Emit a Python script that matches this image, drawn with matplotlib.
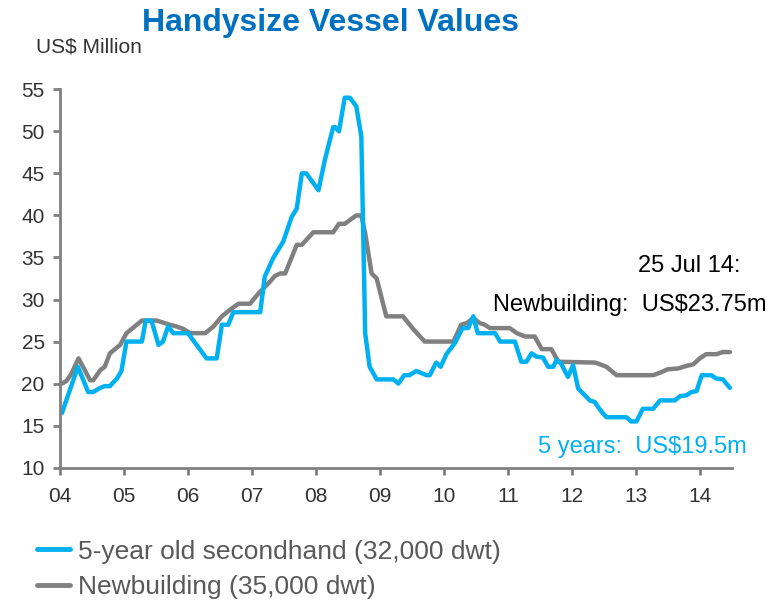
import matplotlib
matplotlib.use("Agg")
import matplotlib.pyplot as plt
from matplotlib.lines import Line2D

# 5-year old secondhand (32,000 dwt), US$ million, decimal years
sh_dates = [2004.03, 2004.28, 2004.44, 2004.52, 2004.63, 2004.70, 2004.78, 2004.89, 2004.96,
            2005.04, 2005.28, 2005.34, 2005.43, 2005.54, 2005.61, 2005.69, 2005.77, 2006.00,
            2006.29, 2006.45, 2006.53, 2006.63, 2006.71, 2007.13, 2007.20, 2007.33, 2007.49,
            2007.62, 2007.70, 2007.78, 2007.85, 2008.04, 2008.14, 2008.27, 2008.30, 2008.36,
            2008.45, 2008.53, 2008.63, 2008.71, 2008.77, 2008.84, 2008.95, 2009.21, 2009.29,
            2009.38, 2009.46, 2009.57, 2009.73, 2009.78, 2009.88, 2009.95, 2010.04, 2010.17,
            2010.29, 2010.38, 2010.46, 2010.53, 2010.80, 2010.88, 2011.11, 2011.21, 2011.29,
            2011.37, 2011.45, 2011.55, 2011.63, 2011.71, 2011.76, 2011.83, 2011.94, 2012.02,
            2012.10, 2012.18, 2012.28, 2012.36, 2012.44, 2012.54, 2012.85, 2012.93, 2013.01,
            2013.11, 2013.27, 2013.38, 2013.61, 2013.69, 2013.79, 2013.87, 2013.95, 2014.03,
            2014.18, 2014.26, 2014.36, 2014.47]
sh_vals = [16.5, 22.0, 19.0, 19.0, 19.5, 19.7, 19.7, 20.6, 21.5,
           25.0, 25.0, 27.5, 27.5, 24.6, 25.0, 26.8, 26.0, 26.0,
           23.0, 23.0, 27.0, 27.0, 28.5, 28.5, 32.7, 34.9, 36.9,
           39.8, 40.8, 45.0, 45.0, 43.0, 46.6, 50.5, 50.5, 50.0,
           54.0, 54.0, 53.0, 49.4, 26.0, 22.0, 20.5, 20.5, 20.0,
           21.0, 21.0, 21.5, 21.0, 21.0, 22.5, 22.0, 23.5, 24.8,
           26.6, 26.6, 28.0, 26.0, 26.0, 25.0, 25.0, 22.6, 22.6,
           23.6, 23.2, 23.1, 22.0, 22.0, 22.8, 22.4, 20.8, 22.2,
           19.4, 18.8, 18.0, 17.8, 16.9, 16.0, 16.0, 15.5, 15.5,
           17.0, 17.0, 18.0, 18.0, 18.5, 18.6, 19.0, 19.1, 21.0,
           21.0, 20.6, 20.5, 19.5]

# Newbuilding (35,000 dwt)
nb_dates = [2004.03, 2004.10, 2004.18, 2004.29, 2004.36, 2004.47, 2004.52, 2004.63, 2004.70,
            2004.78, 2004.94, 2005.04, 2005.28, 2005.51, 2005.72, 2005.82, 2005.93, 2006.03,
            2006.27, 2006.40, 2006.53, 2006.66, 2006.79, 2006.97, 2007.10, 2007.28, 2007.36,
            2007.44, 2007.52, 2007.70, 2007.78, 2007.96, 2008.27, 2008.36, 2008.45, 2008.63,
            2008.71, 2008.77, 2008.87, 2008.95, 2009.10, 2009.36, 2009.52, 2009.70, 2010.15,
            2010.27, 2010.36, 2010.46, 2010.56, 2010.64, 2010.72, 2011.03, 2011.14, 2011.27,
            2011.42, 2011.53, 2011.68, 2011.79, 2012.36, 2012.44, 2012.54, 2012.70, 2013.27,
            2013.38, 2013.50, 2013.66, 2013.79, 2013.90, 2014.00, 2014.10, 2014.26, 2014.36,
            2014.47]
nb_vals = [20.0, 20.3, 21.2, 23.0, 22.0, 20.4, 20.4, 21.6, 22.0,
           23.6, 24.6, 26.0, 27.5, 27.5, 27.0, 26.8, 26.5, 26.0,
           26.0, 26.8, 28.0, 28.8, 29.5, 29.5, 30.7, 32.1, 32.8,
           33.1, 33.1, 36.5, 36.5, 38.0, 38.0, 39.0, 39.0, 40.0,
           40.0, 37.9, 33.1, 32.5, 28.0, 28.0, 26.5, 25.0, 25.0,
           27.0, 27.2, 27.8, 27.2, 27.0, 26.6, 26.6, 26.0, 25.6,
           25.6, 24.1, 24.1, 22.6, 22.5, 22.3, 22.0, 21.0, 21.0,
           21.3, 21.7, 21.8, 22.1, 22.3, 23.0, 23.5, 23.5, 23.75,
           23.75]

year_ticks = list(range(2004, 2015))
year_labels = ['04', '05', '06', '07', '08', '09', '10', '11', '12', '13', '14']
y_ticks = [10, 15, 20, 25, 30, 35, 40, 45, 50, 55]

BLUE = '#00B0F0'
GREY = '#808080'
plt.rcParams['font.family'] = ['Liberation Sans', 'DejaVu Sans']

fig = plt.figure(figsize=(7.76, 6.03), dpi=100)
ax = fig.add_axes([0.0773, 0.2244, 0.8657, 0.6275])

ax.plot(nb_dates, nb_vals, color=GREY, lw=3.2, solid_joinstyle='round', solid_capstyle='round')
ax.plot(sh_dates, sh_vals, color=BLUE, lw=3.2, solid_joinstyle='round', solid_capstyle='round')

ax.set_xlim(2004, 2014.5)
ax.set_ylim(10, 55)
ax.set_xticks(year_ticks)
ax.set_xticklabels(year_labels)
ax.set_yticks(y_ticks)

for s in ['top', 'right']:
    ax.spines[s].set_visible(False)
for s in ['left', 'bottom']:
    ax.spines[s].set_color(GREY)
    ax.spines[s].set_linewidth(2)
ax.tick_params(axis='both', colors=GREY, width=2, length=5, labelcolor='#333333', labelsize=15)
ax.tick_params(axis='y', pad=6)
ax.tick_params(axis='x', pad=9)

# annotations
ax.text(2013.84, 34.0, '25 Jul 14:', fontsize=17, ha='center', va='center', color='black')
ax.text(2012.9, 29.3, 'Newbuilding:  US$23.75m', fontsize=17, ha='center', va='center',
        color='black', clip_on=False)
ax.text(2013.1, 12.5, '5 years:  US$19.5m', fontsize=17, ha='center', va='center', color=BLUE)

fig.text(0.426, 0.962, 'Handysize Vessel Values', fontsize=23, fontweight='bold',
         color='#0070C0', ha='center', va='center')
fig.text(0.047, 0.922, 'US$ Million', fontsize=15, color='#333333', ha='left', va='center')

handles = [Line2D([0], [0], color=BLUE, lw=3.5, solid_capstyle='round'),
           Line2D([0], [0], color=GREY, lw=3.5, solid_capstyle='round')]
fig.legend(handles, ['5-year old secondhand (32,000 dwt)', 'Newbuilding (35,000 dwt)'],
           loc='upper left', bbox_to_anchor=(0.031, 0.127), frameon=False, fontsize=19,
           handlelength=1.25, handletextpad=0.3, labelspacing=0.45, borderpad=0,
           labelcolor='#595959')

fig.savefig('out.png', dpi=100)
